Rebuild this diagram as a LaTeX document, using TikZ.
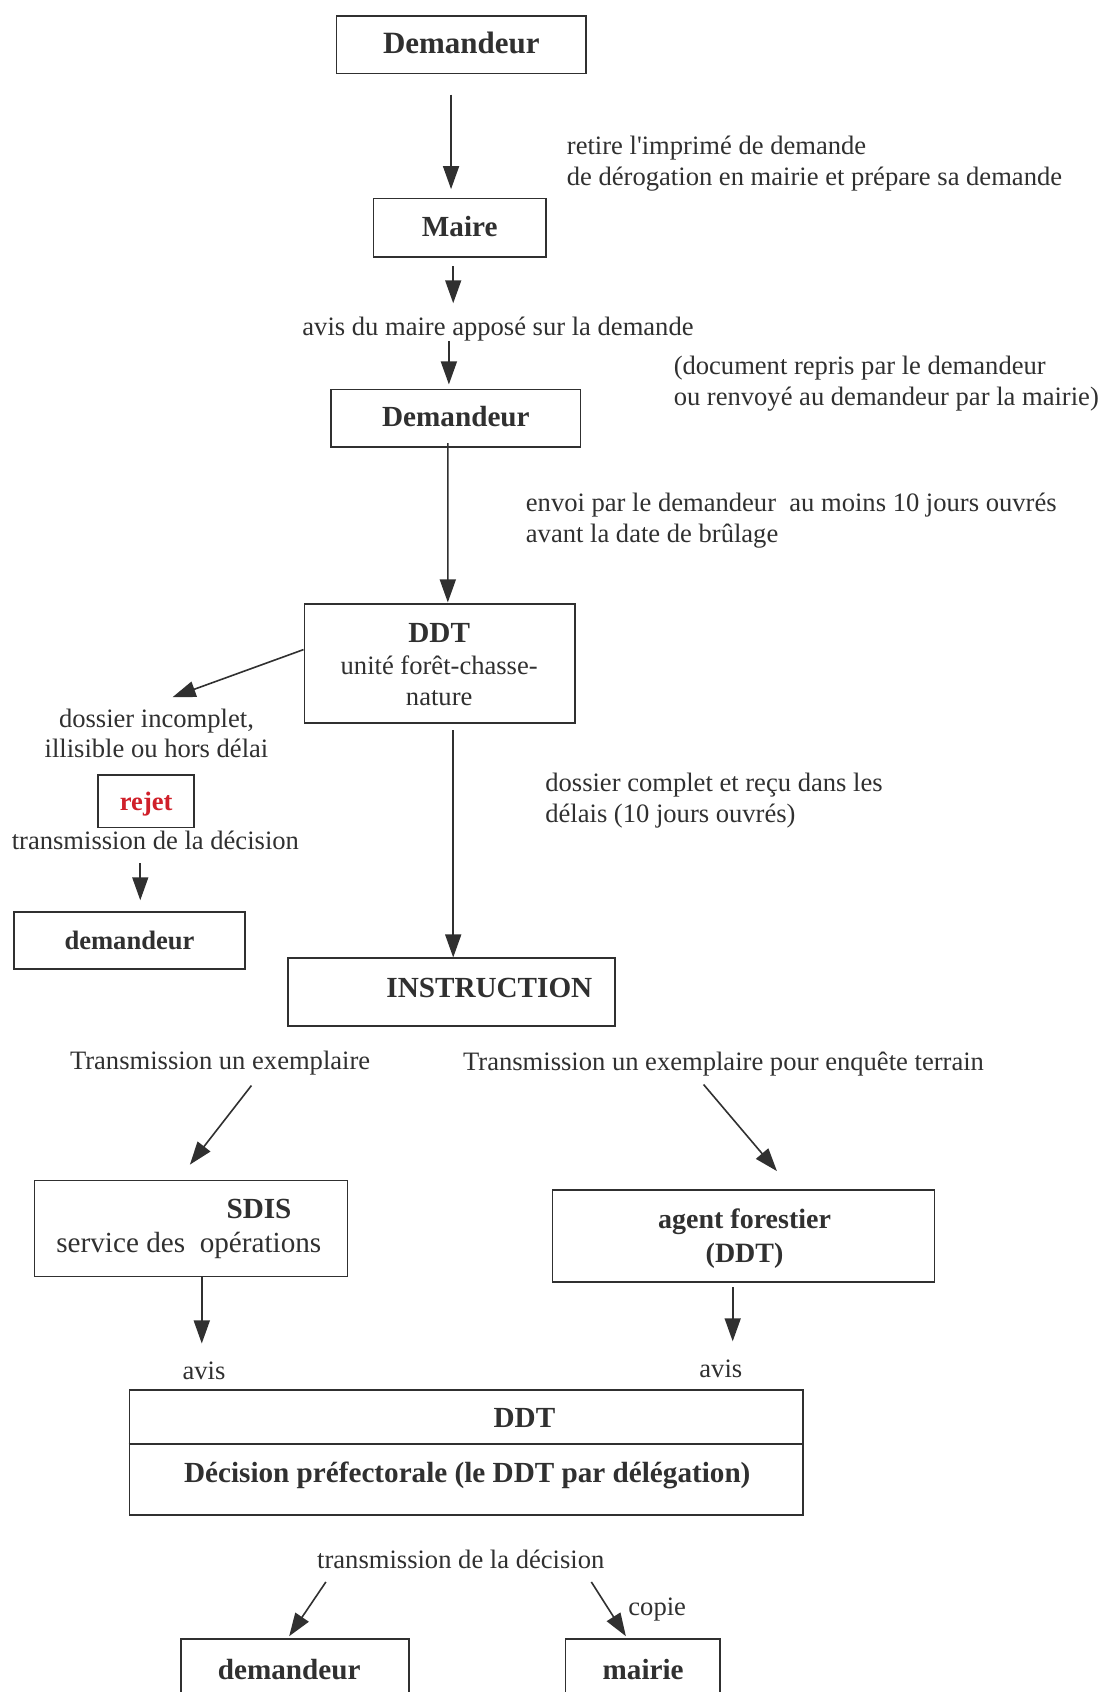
\documentclass[tikz,border=0pt]{standalone}
\usepackage{fontspec}
\setmainfont{Liberation Serif}
\usetikzlibrary{arrows.meta}
\definecolor{ink}{HTML}{303030}
\definecolor{rejred}{HTML}{D0202A}
\begin{document}
\begin{tikzpicture}[x=0.54pt,y=-0.54pt,
  box/.style 2 args={draw=ink,line width=0.8pt,minimum width=#1*0.54pt,minimum height=#2*0.54pt,inner sep=0pt},
  txt/.style={text=ink,inner sep=0pt,text height=0.92em,text depth=0.04em,font=\fontsize{13.3}{16}\selectfont},
  bigtxt/.style={txt,font=\fontsize{14.6}{17}\selectfont},
  btxt/.style={txt,font=\fontsize{14.6}{17}\selectfont\bfseries},
  sbtxt/.style={txt,font=\fontsize{13.3}{16}\selectfont\bfseries},
  arr/.style={draw=ink,line width=0.8pt,-{Triangle[length=11.5pt,width=8pt]}}]
\useasboundingbox (0,0) rectangle (1019,1568);
\clip (0,0) rectangle (1019,1568);
\fill[white] (0,0) rectangle (1019,1568);

% boxes
\node[box={231}{53},btxt,font=\fontsize{15.5}{18}\selectfont\bfseries] (d1) at (427.5,41.5) {Demandeur};
\node[box={160}{54},btxt] (maire) at (426,211) {Maire};
\node[box={231}{53},btxt] (d2) at (422.5,387.5) {Demandeur};
\node[box={251}{110}] (ddt) at (407.5,615) {};
\node[box={89}{49},sbtxt,text=rejred] (rejet) at (135.5,742.5) {rejet};
\node[box={214}{53},sbtxt] (dem3) at (120,871.5) {demandeur};
\node[box={303}{63}] (instr) at (418.5,919.5) {};
\node[box={290}{89}] (sdis) at (177,1138.5) {};
\node[box={354}{85}] (agent) at (689,1145.5) {};
\node[box={624}{116}] (ddt2) at (432,1346) {};
\node[box={211}{81}] (dem4) at (273.5,1559.5) {};
\node[box={143}{81}] (mairie) at (595.5,1559.5) {};
\draw[draw=ink,line width=0.8pt] (ddt2.west |- 0,1338) -- (ddt2.east |- 0,1338);

% texts inside boxes
\node[btxt] (ddtt) at (407,587) {DDT};
\node[txt] (ddtu) at (407,617) {unité forêt-chasse-};
\node[txt] (ddtn) at (407,646) {nature};
\node[btxt] (instrt) at (453.5,916) {INSTRUCTION};
\node[btxt] (sdist) at (240,1121) {SDIS};
\node[bigtxt] (sdiss) at (175,1153) {service des\ \ opérations};
\node[btxt,font=\fontsize{14}{17}\selectfont\bfseries] (agentt) at (690,1130) {agent forestier};
\node[btxt,font=\fontsize{14}{17}\selectfont\bfseries] (agentd) at (690,1162) {(DDT)};
\node[btxt] (ddt2a) at (486,1315) {DDT};
\node[btxt] (ddt2b) at (433,1366) {Décision préfectorale (le DDT par délégation)};
\node[btxt] (dem4t) at (268,1548) {demandeur};
\node[btxt] (mairiet) at (596,1548) {mairie};

% free texts
\node[txt,anchor=west] (t1a) at (525,135) {retire l\textquotesingle imprimé de demande};
\node[txt,anchor=west] (t1b) at (525,164) {de dérogation en mairie et prépare sa demande};
\node[txt] (avis1) at (461.5,303) {avis du maire apposé sur la demande};
\node[txt,anchor=west] (doc1) at (624,339) {(document repris par le demandeur};
\node[txt,anchor=west] (doc2) at (624,368) {ou renvoyé au demandeur par la mairie)};
\node[txt,anchor=west] (env1) at (487,466) {envoi par le demandeur\ \ au moins 10 jours ouvrés};
\node[txt,anchor=west] (env2) at (487,495) {avant la date de brûlage};
\node[txt] (dos1) at (145,666) {dossier incomplet,};
\node[txt] (dos2) at (145,694) {illisible ou hors délai};
\node[txt] (trans1) at (144,779) {transmission de la décision};
\node[txt,anchor=west] (ok1) at (505,725) {dossier complet et reçu dans les};
\node[txt,anchor=west] (ok2) at (505,754) {délais (10 jours ouvrés)};
\node[txt] (tx1) at (204,983) {Transmission un exemplaire};
\node[txt] (tx2) at (670.5,984) {Transmission un exemplaire pour enquête terrain};
\node[txt] (avis2) at (189,1270) {avis};
\node[txt] (avis3) at (668,1268) {avis};
\node[txt] (tx3) at (427,1445) {transmission de la décision};
\node[txt,anchor=west] (copie) at (582,1489) {copie};

% connectors
\draw[arr] ([shift={(-9.5,19)}]d1.south) -- ([shift={(-8,-8)}]maire.north);
\draw[arr] ([shift={(-6,8)}]maire.south) -- ([shift={(-41.5,-22)}]avis1.center);
\draw[arr] ([shift={(-45.5,13)}]avis1.center) -- ([shift={(-6.5,-4)}]d2.north);
\draw[arr] ([shift={(-7.5,-4)}]d2.south) -- ([shift={(7.5,-1)}]ddt.north);
\draw[arr] ([shift={(0,-13)}]ddt.west) -- ([shift={(15,-20)}]dos1.center);
\draw[arr] ([shift={(-14,21)}]trans1.center) -- ([shift={(10,-10)}]dem3.north);
\draw[arr] ([shift={(12.5,6)}]ddt.south) -- ([shift={(1.5,0)}]instr.north);
\draw[arr] ([shift={(29,23)}]tx1.center) -- ([shift={(-1,-14)}]sdis.north);
\draw[arr] ([shift={(-18.5,21)}]tx2.center) -- ([shift={(31,-17)}]agent.north);
\draw[arr] ([shift={(10,0)}]sdis.south) -- ([shift={(-2,-25)}]avis2.center);
\draw[arr] ([shift={(-10,4)}]agent.south) -- ([shift={(11,-25)}]avis3.center);
\draw[arr] ([shift={(-125,21)}]tx3.center) -- ([shift={(-5.5,-2)}]dem4.north);
\draw[arr] ([shift={(121,21)}]tx3.center) -- ([shift={(-15.5,-2)}]mairie.north);
\end{tikzpicture}
\end{document}
